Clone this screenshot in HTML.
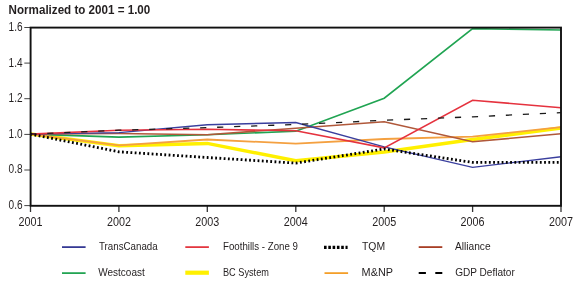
<!DOCTYPE html><html><head><meta charset="utf-8"><style>html,body{margin:0;padding:0;background:#fff;width:580px;height:285px;overflow:hidden}svg{display:block}text{font-family:"Liberation Sans",sans-serif;fill:#231f20}svg{will-change:transform}</style></head><body>
<svg width="580" height="285" viewBox="0 0 580 285">
<rect width="580" height="285" fill="#fff"/>
<text x="8.6" y="13.8" font-size="12" font-weight="bold" textLength="141.7" lengthAdjust="spacingAndGlyphs">Normalized to 2001 = 1.00</text>
<line x1="24.3" y1="27.5" x2="30" y2="27.5" stroke="#444" stroke-width="1"/>
<text x="22.6" y="30.9" font-size="12" text-anchor="end" textLength="14" lengthAdjust="spacingAndGlyphs">1.6</text>
<line x1="24.3" y1="63.1" x2="30" y2="63.1" stroke="#444" stroke-width="1"/>
<text x="22.6" y="66.5" font-size="12" text-anchor="end" textLength="14" lengthAdjust="spacingAndGlyphs">1.4</text>
<line x1="24.3" y1="98.7" x2="30" y2="98.7" stroke="#444" stroke-width="1"/>
<text x="22.6" y="102.1" font-size="12" text-anchor="end" textLength="14" lengthAdjust="spacingAndGlyphs">1.2</text>
<line x1="24.3" y1="134.4" x2="30" y2="134.4" stroke="#444" stroke-width="1"/>
<text x="22.6" y="137.8" font-size="12" text-anchor="end" textLength="14" lengthAdjust="spacingAndGlyphs">1.0</text>
<line x1="24.3" y1="170.0" x2="30" y2="170.0" stroke="#444" stroke-width="1"/>
<text x="22.6" y="173.4" font-size="12" text-anchor="end" textLength="14" lengthAdjust="spacingAndGlyphs">0.8</text>
<line x1="24.3" y1="205.6" x2="30" y2="205.6" stroke="#444" stroke-width="1"/>
<text x="22.6" y="209.0" font-size="12" text-anchor="end" textLength="14" lengthAdjust="spacingAndGlyphs">0.6</text>
<line x1="30.5" y1="206" x2="30.5" y2="212" stroke="#333" stroke-width="1.3"/>
<text x="30.5" y="225.8" font-size="12" text-anchor="middle" textLength="24" lengthAdjust="spacingAndGlyphs">2001</text>
<line x1="118.9" y1="206" x2="118.9" y2="212" stroke="#333" stroke-width="1.3"/>
<text x="118.9" y="225.8" font-size="12" text-anchor="middle" textLength="24" lengthAdjust="spacingAndGlyphs">2002</text>
<line x1="207.3" y1="206" x2="207.3" y2="212" stroke="#333" stroke-width="1.3"/>
<text x="207.3" y="225.8" font-size="12" text-anchor="middle" textLength="24" lengthAdjust="spacingAndGlyphs">2003</text>
<line x1="295.8" y1="206" x2="295.8" y2="212" stroke="#333" stroke-width="1.3"/>
<text x="295.8" y="225.8" font-size="12" text-anchor="middle" textLength="24" lengthAdjust="spacingAndGlyphs">2004</text>
<line x1="384.2" y1="206" x2="384.2" y2="212" stroke="#333" stroke-width="1.3"/>
<text x="384.2" y="225.8" font-size="12" text-anchor="middle" textLength="24" lengthAdjust="spacingAndGlyphs">2005</text>
<line x1="472.6" y1="206" x2="472.6" y2="212" stroke="#333" stroke-width="1.3"/>
<text x="472.6" y="225.8" font-size="12" text-anchor="middle" textLength="24" lengthAdjust="spacingAndGlyphs">2006</text>
<line x1="561.0" y1="206" x2="561.0" y2="212" stroke="#333" stroke-width="1.3"/>
<text x="561.0" y="225.8" font-size="12" text-anchor="middle" textLength="24" lengthAdjust="spacingAndGlyphs">2007</text>
<polyline fill="none" stroke-linejoin="miter" points="30.5,134.1 118.9,145.8 207.3,143.4 295.8,160.8 384.2,152.1 472.6,139.5 561.0,128.0" stroke="#fff000" stroke-width="3.5"/>
<polyline fill="none" stroke-linejoin="miter" points="30.5,134.1 118.9,137.1 207.3,134.7 295.8,131.2 384.2,98.2 472.6,28.6 561.0,30.0" stroke="#20a452" stroke-width="1.6"/>
<polyline fill="none" stroke-linejoin="miter" points="30.5,134.1 118.9,145.3 207.3,139.5 295.8,143.7 384.2,139.0 472.6,136.6 561.0,127.1" stroke="#f4a040" stroke-width="1.8"/>
<polyline fill="none" stroke-linejoin="miter" points="30.5,134.1 118.9,133.5 207.3,134.7 295.8,128.2 384.2,121.8 472.6,141.8 561.0,133.7" stroke="#b0583a" stroke-width="1.5"/>
<polyline fill="none" stroke-linejoin="miter" points="30.5,134.1 118.9,132.6 207.3,124.7 295.8,122.5 384.2,146.9 472.6,167.4 561.0,156.8" stroke="#3a3f9e" stroke-width="1.4"/>
<polyline fill="none" stroke-linejoin="miter" points="30.5,134.1 118.9,130.2 207.3,129.2 295.8,130.8 384.2,147.9 472.6,100.2 561.0,107.8" stroke="#e5323e" stroke-width="1.6"/>
<polyline fill="none" stroke-linejoin="miter" points="30.5,134.1 118.9,151.8 207.3,157.5 295.8,163.1 384.2,149.0 472.6,162.4 561.0,162.4" stroke="#000" stroke-width="2.8" stroke-dasharray="1.8 2.446" stroke-dashoffset="0.164"/>
<polyline fill="none" stroke-linejoin="miter" points="30.5,134.1 118.9,130.2 207.3,127.6 295.8,124.5 384.2,120.3 472.6,116.8 561.0,112.7" stroke="#1a1a1a" stroke-width="1.3" stroke-dasharray="6.2 10.8" stroke-dashoffset="0.25"/>
<rect x="30.6" y="27.6" width="530.4" height="178.2" fill="none" stroke="#111" stroke-width="1.9"/>
<line x1="62.0" y1="247.1" x2="85.6" y2="247.1" stroke="#1f2388" stroke-width="1.6"/>
<text x="99.0" y="250.1" font-size="11" textLength="58.7" lengthAdjust="spacingAndGlyphs">TransCanada</text>
<line x1="185.3" y1="247.1" x2="208.9" y2="247.1" stroke="#e0202a" stroke-width="1.6"/>
<text x="223.0" y="250.1" font-size="11" textLength="74.9" lengthAdjust="spacingAndGlyphs">Foothills - Zone 9</text>
<line x1="324.0" y1="247.4" x2="347.6" y2="247.4" stroke="#000" stroke-width="3.2" stroke-dasharray="2.6 1.7"/>
<text x="362.0" y="250.1" font-size="11" textLength="23.1" lengthAdjust="spacingAndGlyphs">TQM</text>
<line x1="418.7" y1="247.1" x2="442.3" y2="247.1" stroke="#a83e25" stroke-width="1.8"/>
<text x="455.0" y="250.1" font-size="11" textLength="35.6" lengthAdjust="spacingAndGlyphs">Alliance</text>
<line x1="62.0" y1="273.1" x2="85.6" y2="273.1" stroke="#0a9a40" stroke-width="1.6"/>
<text x="98.3" y="276.2" font-size="11" textLength="46.4" lengthAdjust="spacingAndGlyphs">Westcoast</text>
<line x1="185.3" y1="272.7" x2="208.9" y2="272.7" stroke="#fff000" stroke-width="4.2"/>
<text x="223.0" y="276.2" font-size="11" textLength="45.9" lengthAdjust="spacingAndGlyphs">BC System</text>
<line x1="324.5" y1="273.1" x2="348.1" y2="273.1" stroke="#f39410" stroke-width="1.6"/>
<text x="361.6" y="276.2" font-size="11" textLength="31.4" lengthAdjust="spacingAndGlyphs">M&amp;NP</text>
<line x1="418.7" y1="273.1" x2="442.3" y2="273.1" stroke="#000" stroke-width="2" stroke-dasharray="7.2 9.4"/>
<text x="455.2" y="276.2" font-size="11" textLength="59.6" lengthAdjust="spacingAndGlyphs">GDP Deflator</text>
</svg></body></html>
